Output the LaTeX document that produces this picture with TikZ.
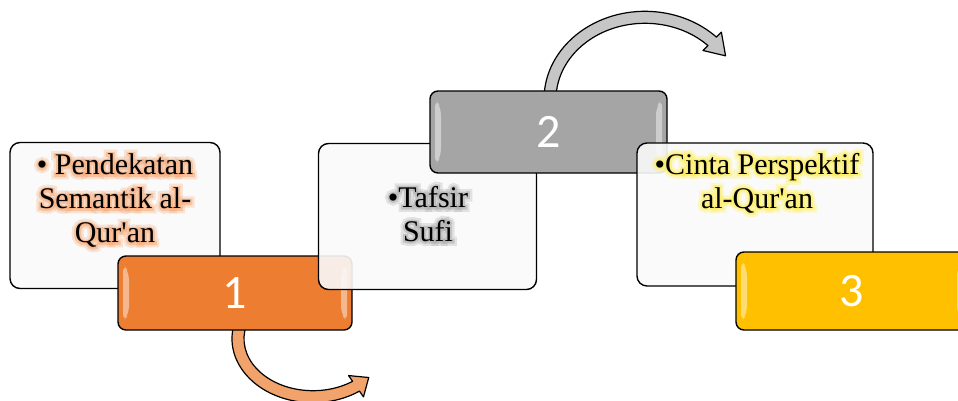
\documentclass[tikz,border=0pt]{standalone}
\usepackage{fontspec}
\setmainfont{Liberation Serif}
\newfontfamily\numfont{Carlito}
\newfontfamily\glowwide[FakeBold=30]{Liberation Serif}
\newfontfamily\glownarrow[FakeBold=14]{Liberation Serif}
\usetikzlibrary{calc,backgrounds}

\definecolor{boxorange}{HTML}{ED7D31}
\definecolor{boxgray}{HTML}{A5A5A5}
\definecolor{boxgold}{HTML}{FFC000}
\definecolor{arroworange}{HTML}{F2A36C}
\definecolor{arrowgray}{HTML}{C6C6C6}
\definecolor{glowA}{HTML}{F6AA78}
\definecolor{glowB}{HTML}{ABABAB}
\definecolor{glowC}{HTML}{FFEE55}

\newcommand\lblsize{\fontsize{30}{34}\selectfont}
\newcommand\glowlabel[4]{%
  \node[lbl,font=\glowwide\lblsize,text=#3,opacity=.3] at #2 {#4};
  \node[lbl,font=\glownarrow\lblsize,text=#3,opacity=.55] at #2 {#4};
  \node[lbl] (#1) at #2 {#4};}

\begin{document}
\begin{tikzpicture}[x=1pt,y=-1pt,
  card/.style={draw,line width=1.4pt,rounded corners=10pt,fill=white!98!black,fill opacity=.9,inner sep=0pt},
  numbox/.style={draw,line width=1.4pt,rounded corners=8pt,inner sep=0pt,text=white,
    font=\numfont\fontsize{48}{48}\selectfont,
    path picture={
      \fill[white,opacity=.45] ($(path picture bounding box.north west)+(5pt,-8pt)$) -- ($(path picture bounding box.north west)+(11pt,-16pt)$)
        -- ($(path picture bounding box.south west)+(11pt,16pt)$) -- ($(path picture bounding box.south west)+(5pt,8pt)$) -- cycle;
      \fill[white,opacity=.45] ($(path picture bounding box.north east)+(-5pt,-8pt)$) -- ($(path picture bounding box.north east)+(-11pt,-16pt)$)
        -- ($(path picture bounding box.south east)+(-11pt,16pt)$) -- ($(path picture bounding box.south east)+(-5pt,8pt)$) -- cycle;}},
  lbl/.style={align=center,font=\lblsize},
  curvearrow/.style={draw,line width=1.2pt,line join=round}]
  \useasboundingbox (0,0) rectangle (958,401);
  \begin{scope}
  \clip (0,0) rectangle (958,401);
  \node[card,minimum width=210pt,minimum height=146pt] (cardA) at (115,215.5) {};
  \glowlabel{txtA}{(115,201)}{glowA}{• Pendekatan\\Semantik al-\\Qur\textquotesingle an}
  \node[numbox,fill=boxorange,minimum width=234pt,minimum height=74pt] (num1) at (235,293) {1};
  \node[card,minimum width=218pt,minimum height=146pt] (cardB) at (427.5,216.5) {};
  \glowlabel{txtB}{(428,214)}{glowB}{•Tafsir\\Sufi}
  \node[numbox,fill=boxgray,minimum width=237pt,minimum height=82pt] (num2) at (548.5,132) {2};
  \node[card,minimum width=236pt,minimum height=143pt] (cardC) at (755,214.5) {};
  \glowlabel{txtC}{(757,183)}{glowC}{•Cinta Perspektif\\al-Qur\textquotesingle an}
  \node[numbox,fill=boxgold,minimum width=232pt,minimum height=78pt] (num3) at (852,291) {3};
  \end{scope}
  \begin{scope}[on background layer]
  \coordinate (c1) at ($(num1.south)+(78,8)$);
  \coordinate (c2) at ($(num2.north)+(96.5,9)$);
  \draw[curvearrow,fill=arroworange] ($(c1)+(195:81 and 64)$) arc[start angle=195,end angle=55,x radius=81,y radius=64]
    -- ($(c1)+(55:88 and 71)$) -- ($(c1)+(42:75 and 58)$) -- ($(c1)+(55:62 and 45)$) -- ($(c1)+(55:69 and 52)$)
    arc[start angle=55,end angle=195,x radius=69,y radius=52] -- cycle;
  \draw[curvearrow,fill=arrowgray] ($(c2)+(-176:101 and 88)$) arc[start angle=-176,end angle=-45,x radius=101,y radius=88]
    -- ($(c2)+(-45:108 and 95)$) -- ($(c2)+(-32:95 and 82)$) -- ($(c2)+(-45:82 and 69)$) -- ($(c2)+(-45:89 and 76)$)
    arc[start angle=-45,end angle=-176,x radius=89,y radius=76] -- cycle;
  \end{scope}
\end{tikzpicture}
\end{document}
